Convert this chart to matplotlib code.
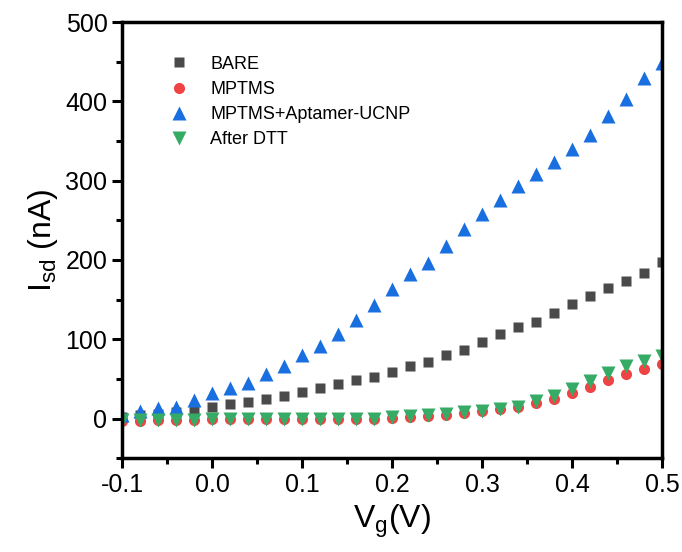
import numpy as np
import matplotlib.pyplot as plt
from matplotlib.ticker import MultipleLocator

plt.rcParams['font.family'] = ['Liberation Sans', 'DejaVu Sans']

vg = [-0.10, -0.08, -0.06, -0.04, -0.02, 0.00, 0.02, 0.04, 0.06, 0.08,
      0.10, 0.12, 0.14, 0.16, 0.18, 0.20, 0.22, 0.24, 0.26, 0.28,
      0.30, 0.32, 0.34, 0.36, 0.38, 0.40, 0.42, 0.44, 0.46, 0.48, 0.50]

bare = [2, 4, 6, 8, 11, 15, 18, 21, 25, 28,
        33, 38, 44, 48, 52, 59, 66, 71, 80, 87,
        96, 106, 115, 122, 133, 144, 154, 164, 173, 184, 197]

mptms = [-3, -3, -2, -2, -2, -1, -1, -1, -1, -1,
         -1, -1, -1, -1, -1, 1, 2, 3, 5, 7,
         9, 12, 15, 20, 25, 32, 40, 49, 56, 62, 69]

aptamer = [5, 10, 13, 15, 23, 32, 39, 45, 56, 66,
           80, 92, 107, 124, 143, 163, 182, 196, 218, 239,
           258, 275, 293, 308, 324, 340, 357, 381, 403, 430, 449]

dtt = [-2, -2, -2, -2, -2, -1, -1, -1, -1, -1,
       -1, -1, -1, 0, 0, 2, 3, 4, 6, 8,
       9, 12, 15, 22, 29, 37, 47, 57, 66, 72, 79]

fig = plt.figure(figsize=(6.82, 5.52), dpi=100)
ax = fig.add_axes([0.179, 0.170, 0.792, 0.790])

ax.plot(vg, bare, 's', color='#4a4a4a', ms=7.5, mec='none', label='BARE')
ax.plot(vg, mptms, 'o', color='#f04444', ms=8, mec='none', label='MPTMS')
ax.plot(vg, aptamer, '^', color='#1a6fe0', ms=9.5, mec='none', label='MPTMS+Aptamer-UCNP')
ax.plot(vg, dtt, 'v', color='#36ab66', ms=9.5, mec='none', label='After DTT')

ax.set_xlim(-0.1, 0.5)
ax.set_ylim(-50, 500)
ax.xaxis.set_major_locator(MultipleLocator(0.1))
ax.xaxis.set_minor_locator(MultipleLocator(0.05))
ax.yaxis.set_major_locator(MultipleLocator(100))
ax.yaxis.set_minor_locator(MultipleLocator(50))
ax.xaxis.set_major_formatter(plt.FuncFormatter(lambda v, p: f'{v:.1f}'))

for s in ax.spines.values():
    s.set_linewidth(2.5)
ax.tick_params(which='both', direction='out', width=2.2, labelsize=18, top=False, right=False)
ax.tick_params(which='major', length=7)
ax.tick_params(which='minor', length=4)

ax.set_xlabel('V$_\\mathregular{g}$(V)', fontsize=23)
ax.set_ylabel('I$_\\mathregular{sd}$ (nA)', fontsize=23)

ax.legend(loc='upper left', frameon=False, fontsize=13, bbox_to_anchor=(0.05, 0.96),
          handletextpad=1.0, labelspacing=0.45, handlelength=1.5)

fig.savefig('out.png', dpi=100)
